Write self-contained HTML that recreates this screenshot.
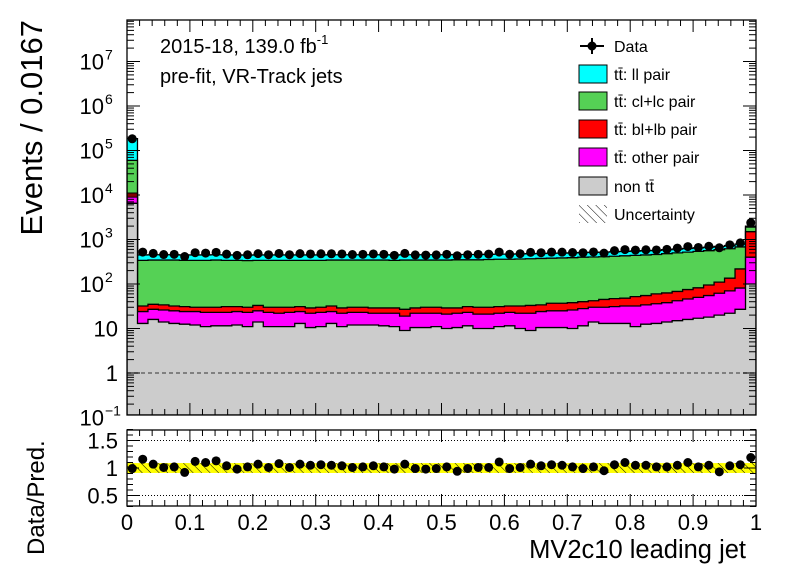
<!DOCTYPE html>
<html><head><meta charset="utf-8">
<style>
body{margin:0;background:#fff;}
svg{display:block;font-family:"Liberation Sans",Arial,sans-serif;}
</style></head>
<body>
<svg id="c" width="796" height="572" viewBox="0 0 796 572" xmlns="http://www.w3.org/2000/svg"></svg>
<script>
// ---- data (60 bins of MV2c10, 0..1) ----
const nonTT = [6500,13,16,14,13,12.5,12,11,11.5,11.5,12,11,14,11,11,11,13,10.5,11,13,11,12,12,12,11.5,11,9,10.5,10.5,11,10,10.5,11.5,10,10,11,11.5,10,9,10.5,10.5,10.5,10,11.5,14,13,13,13,11,12.5,13,14,15,16,17,18,20,22,27,100];
const otherTop = [9000,24,27,26,25,24,24,23,23,23,24,23,25,23,22,23,24,22,23,24,22,23,23,22,22,22,19,22,22,22,21,22,23,21,21,22,23,22,22,24,25,25,26,28,30,30,31,32,32,34,36,38,42,46,50,55,62,70,81,400];
const blTop = [11000,32,35,34,32,31,30,30,30,31,31,30,33,30,30,30,31,29,30,32,29,30,30,29,29,29,27,29,30,30,29,29,31,30,30,31,32,32,33,34,37,37,38,40,42,45,47,48,52,55,60,63,68,75,82,95,110,135,218,1500];
const clTop = [60000,340,345,345,345,340,340,340,345,340,340,335,340,340,340,340,340,340,340,345,345,345,345,345,345,340,345,345,345,345,345,350,350,350,355,360,360,365,370,375,380,385,390,400,405,410,420,430,440,450,460,480,500,520,540,560,590,620,680,1900];
const llTop = [185000,450,455,455,455,450,450,450,455,450,450,445,450,450,450,450,450,450,450,455,455,455,455,455,455,450,455,455,455,455,455,460,460,460,465,470,470,475,480,485,490,495,500,510,515,520,530,540,550,560,570,590,610,630,650,670,700,730,790,2000];
const ratio = [0.99,1.16,1.07,1.01,1.02,0.92,1.12,1.10,1.13,1.04,0.98,1.02,1.07,1.01,1.08,1.01,1.07,1.05,1.06,1.05,1.04,1.01,1.02,1.04,1.02,0.98,1.07,0.99,0.98,0.99,1.02,0.94,0.99,1.01,1.01,1.11,0.99,1.01,1.07,1.04,1.06,1.05,1.02,0.99,1.02,0.95,1.06,1.10,1.05,1.05,1.02,1.02,1.05,1.10,1.02,1.05,0.93,1.04,1.06,1.19];
const xTicks = ["0","0.1","0.2","0.3","0.4","0.5","0.6","0.7","0.8","0.9","1"];

const NS="http://www.w3.org/2000/svg";
const svg=document.getElementById('c');
function el(t,a,p){const e=document.createElementNS(NS,t);for(const k in a)e.setAttribute(k,a[k]);(p||svg).appendChild(e);return e;}

const X0=127,X1=756,Y0=20,Y1=415,R0=430,R1=506;
const nb=60;
const xs=v=>X0+(X1-X0)*v;
const binX=i=>xs(i/nb);
const LY1=373,DEC=44.5;
const ys=v=>Math.min(Y1,Math.max(Y0,LY1-DEC*Math.log10(v)));
const rs=v=>468-55*(v-1);

const defs=el('defs',{});
const cp=el('clipPath',{id:'mc'},defs);el('rect',{x:X0,y:Y0,width:X1-X0,height:Y1-Y0},cp);
const cr=el('clipPath',{id:'rc'},defs);el('rect',{x:X0,y:R0,width:X1-X0,height:R1-R0},cr);
const pat=el('pattern',{id:'hatch',width:6,height:6,patternUnits:'userSpaceOnUse',patternTransform:'rotate(-45)'},defs);
el('line',{x1:0,y1:0,x2:0,y2:6,stroke:'#000','stroke-width':1},pat);

const gMain=el('g',{'clip-path':'url(#mc)'});



function stackPath(vals){
  let d='M'+X0+','+Y1;
  for(let i=0;i<nb;i++){const y=ys(vals[i]);d+=' L'+binX(i)+','+y+' L'+binX(i+1)+','+y;}
  d+=' L'+X1+','+Y1+' Z';return d;
}
const layers=[[llTop,'#00ffff','stack-ll-pair'],[clTop,'#55d155','stack-cl-lc-pair'],[blTop,'#ff0000','stack-bl-lb-pair'],[otherTop,'#ff00ff','stack-other-pair'],[nonTT,'#cccccc','stack-non-tt']];
layers.forEach(L=>{
  const p=el('path',{d:stackPath(L[0]),fill:L[1],stroke:'#000','stroke-width':1.3},gMain);
  
  
});
el('line',{x1:X0,x2:X1,y1:ys(1),y2:ys(1),stroke:'#666','stroke-width':1.5,'stroke-dasharray':'4,3'},gMain);
for(let i=0;i<nb;i++){
  const v=ratio[i]*llTop[i];
  const cx=(binX(i)+binX(i+1))/2,cy=ys(v);
  const c=el('circle',{cx:cx,cy:cy,r:4.5,fill:'#000'},gMain);
  
  
}

const gR=el('g',{'clip-path':'url(#rc)'});


[1.5,0.5].forEach(v=>el('line',{x1:X0,x2:X1,y1:rs(v),y2:rs(v),stroke:'#000','stroke-width':1,'stroke-dasharray':'1,2'},gR));
for(let i=0;i<nb;i++){
  const x=binX(i),w=binX(i+1)-x;
  el('rect',{x:x,y:rs(1.09),width:w,height:rs(0.91)-rs(1.09),fill:'#ffff00'},gR);
  el('rect',{x:x,y:rs(1.09),width:w,height:rs(0.91)-rs(1.09),fill:'url(#hatch)'},gR);
}
for(let i=0;i<nb;i++){
  const c=el('circle',{cx:(binX(i)+binX(i+1))/2,cy:rs(ratio[i]),r:4.5,fill:'#000'},gR);
  
  
}

el('rect',{x:X0,y:Y0,width:X1-X0,height:Y1-Y0,fill:'none',stroke:'#000','stroke-width':1.3});
el('rect',{x:X0,y:R0,width:X1-X0,height:R1-R0,fill:'none',stroke:'#000','stroke-width':1.3});

for(let d=-1;d<=7;d++){
  for(let m=1;m<10;m++){
    const v=m*Math.pow(10,d);const raw=LY1-DEC*Math.log10(v);
    if(raw<Y0||raw>Y1)continue;
    const L=m===1?13:7;
    el('line',{x1:X0,x2:X0+L,y1:raw,y2:raw,stroke:'#000'});
    el('line',{x1:X1,x2:X1-L,y1:raw,y2:raw,stroke:'#000'});
  }
}
const ylab=[[-1,'10','−1'],[0,'1',''],[1,'10',''],[2,'10','2'],[3,'10','3'],[4,'10','4'],[5,'10','5'],[6,'10','6'],[7,'10','7']];
ylab.forEach(l=>{
  const y=LY1-DEC*l[0];
  const t=el('text',{x:l[2]?104:118,y:y+8,'font-size':22,'text-anchor':'end'});
  t.textContent=l[1];
  
  
  if(l[2]){const s=el('text',{x:105,y:y-2,'font-size':14});s.textContent=l[2];}
});
for(let k=0;k<=50;k++){
  const x=xs(k/50);const L=k%5===0?12:6;
  [[Y1,-1],[Y0,1],[R1,-1],[R0,1]].forEach(a=>el('line',{x1:x,x2:x,y1:a[0],y2:a[0]+a[1]*L,stroke:'#000'}));
}
xTicks.forEach((s,i)=>{
  const t=el('text',{x:xs(i/10),y:530,'font-size':22,'text-anchor':'middle'});
  t.textContent=s;
  
  
});
for(let v=0.3;v<=1.71;v+=0.1){
  const y=rs(v);const maj=Math.abs(v*2-Math.round(v*2))<0.01;const L=maj?12:6;
  el('line',{x1:X0,x2:X0+L,y1:y,y2:y,stroke:'#000'});
  el('line',{x1:X1,x2:X1-L,y1:y,y2:y,stroke:'#000'});
}
[['1.5',1.5],['1',1],['0.5',0.5]].forEach(a=>{
  const t=el('text',{x:118,y:rs(a[1])+8,'font-size':22,'text-anchor':'end'});t.textContent=a[0];
  
  
});

let t=el('text',{x:0,y:0,'font-size':31,'text-anchor':'end',transform:'translate(42,20) rotate(-90)'});t.textContent='Events / 0.0167';

t=el('text',{x:0,y:0,'font-size':24,'text-anchor':'start',transform:'translate(44,555) rotate(-90)'});t.textContent='Data/Pred.';

t=el('text',{x:746,y:558,'font-size':25.5,'text-anchor':'end'});t.textContent='MV2c10 leading jet';

t=el('text',{x:160,y:53,'font-size':20});

el('tspan',{},t).textContent='2015-18, 139.0 fb';
const sp=el('tspan',{dy:-9,'font-size':13},t);sp.textContent='-1';
t=el('text',{x:160,y:83,'font-size':20});t.textContent='pre-fit, VR-Track jets';


const leg=[['Data',null,46],['tt̄: ll pair','#00ffff',74],['tt̄: cl+lc pair','#55d155',101],['tt̄: bl+lb pair','#ff0000',129],['tt̄: other pair','#ff00ff',157],['non tt̄','#cccccc',186],['Uncertainty','hatch',214]];
leg.forEach(l=>{
  const g=el('g',{});
  
  
  const y=l[2];
  if(l[1]===null){
    el('line',{x1:580,x2:604,y1:y,y2:y,stroke:'#000','stroke-width':2},g);
    el('line',{x1:592,x2:592,y1:y-8,y2:y+8,stroke:'#000','stroke-width':2},g);
    el('circle',{cx:592,cy:y,r:4.5,fill:'#000'},g);
  }else if(l[1]==='hatch'){
    el('rect',{x:579,y:y-9,width:28,height:18,fill:'url(#hatch)'},g);
  }else{
    el('rect',{x:579,y:y-9,width:28,height:18,fill:l[1],stroke:'#000'},g);
  }
  const tx=el('text',{x:614,y:y+6,'font-size':16},g);tx.textContent=l[0];
});
</script>
</body></html>
